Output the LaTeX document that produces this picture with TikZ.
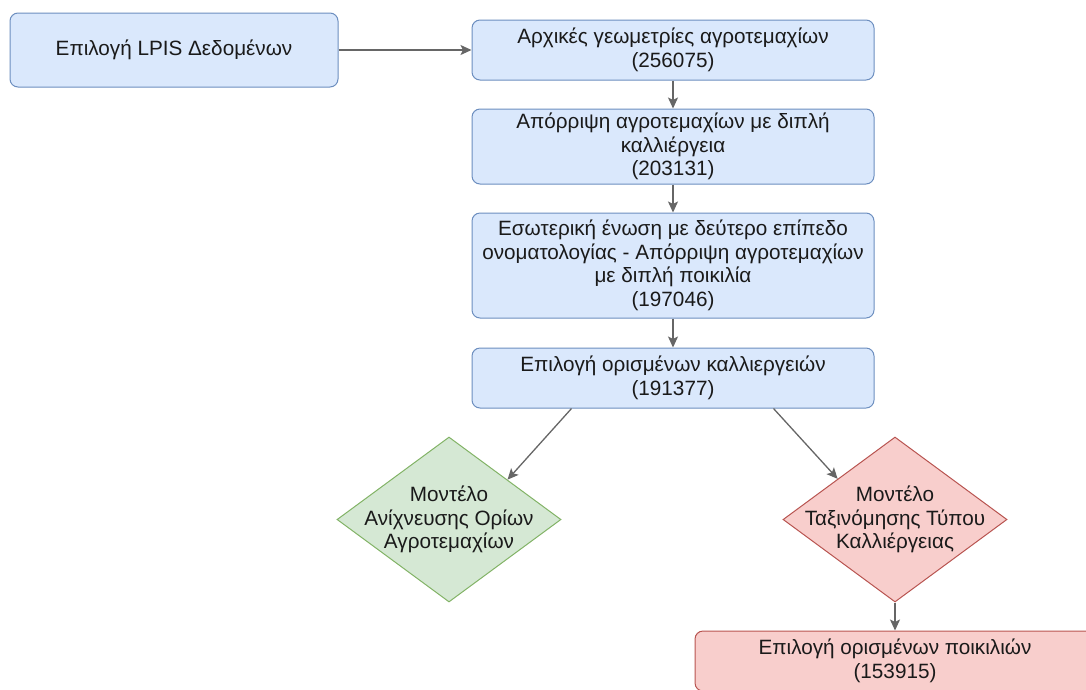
\documentclass[tikz,border=0pt]{standalone}
\usepackage{fontspec}
\setmainfont{Liberation Sans}
\usetikzlibrary{shapes.geometric,arrows.meta,calc}
\definecolor{bfill}{HTML}{DAE8FC}
\definecolor{bdraw}{HTML}{6C8EBF}
\definecolor{gfill}{HTML}{D5E8D4}
\definecolor{gdraw}{HTML}{82B366}
\definecolor{rfill}{HTML}{F8CECC}
\definecolor{rdraw}{HTML}{B85450}
\definecolor{arr}{HTML}{666666}
\definecolor{txt}{HTML}{1A1A1A}
\tikzset{
  box/.style={rectangle, rounded corners=8pt, line width=1pt, inner sep=0pt, align=center, text=txt, font=\fontsize{20.7}{23.5}\selectfont},
  bluebox/.style={box, fill=bfill, draw=bdraw},
  redbox/.style={box, fill=rfill, draw=rdraw},
  diam/.style={diamond, line width=1pt, inner sep=0pt, minimum width=224pt, minimum height=165pt},
  gdiam/.style={diam, fill=gfill, draw=gdraw},
  rdiam/.style={diam, fill=rfill, draw=rdraw},
  lbl/.style={align=center, text=txt, inner sep=0pt, font=\fontsize{20.7}{23.5}\selectfont},
  conn/.style={draw=arr, line width=1.3pt, -{Stealth[length=11pt,width=10pt,inset=2.5pt]}}
}
\begin{document}
\begin{tikzpicture}[x=1pt,y=-1pt]
\useasboundingbox (0,0) rectangle (1086,689);
\clip (0,0) rectangle (1086,689);
\node[bluebox, minimum width=328pt, minimum height=74pt] (b0) at (174,50) {Επιλογή LPIS Δεδομένων};
\node[bluebox, minimum width=402pt, minimum height=60pt] (b1) at (673,50) {Αρχικές γεωμετρίες αγροτεμαχίων\\(256075)};
\node[bluebox, minimum width=402pt, minimum height=75pt] (b2) at (673,146.5) {Απόρριψη αγροτεμαχίων με διπλή\\καλλιέργεια\\(203131)};
\node[bluebox, minimum width=402pt, minimum height=105pt] (b3) at (673,265.5) {Εσωτερική ένωση με δεύτερο επίπεδο\\ονοματολογίας - Απόρριψη αγροτεμαχίων\\με διπλή ποικιλία\\(197046)};
\node[bluebox, minimum width=402pt, minimum height=60pt] (b4) at (673,378) {Επιλογή ορισμένων καλλιεργειών\\(191377)};
\node[gdiam] (d1) at (449,519.5) {};
\node[lbl] (t1) at (d1.center) {Μοντέλο\\Ανίχνευσης Ορίων\\Αγροτεμαχίων};
\node[rdiam] (d2) at (895,519.5) {};
\node[lbl] (t2) at (d2.center) {Μοντέλο\\Ταξινόμησης Τύπου\\Καλλιέργειας};
\node[redbox, minimum width=400pt, minimum height=60pt] (b5) at (895,661) {Επιλογή ορισμένων ποικιλιών\\(153915)};
\coordinate (s1) at ($(b4.south west)+(100,0)$);
\coordinate (s2) at ($(b4.south east)+(-101,0)$);
\coordinate (e1) at ($(d1.north)!0.52!(d1.east)$);
\coordinate (e2) at ($(d2.north)!0.51!(d2.west)$);
\draw[conn] (b0.east) -- (b1.west);
\draw[conn] (b1.south) -- (b2.north);
\draw[conn] (b2.south) -- (b3.north);
\draw[conn] (b3.south) -- (b4.north);
\draw[conn] (s1) -- (e1);
\draw[conn] (s2) -- (e2);
\draw[conn] (d2.south) -- (b5.north);
\end{tikzpicture}
\end{document}
